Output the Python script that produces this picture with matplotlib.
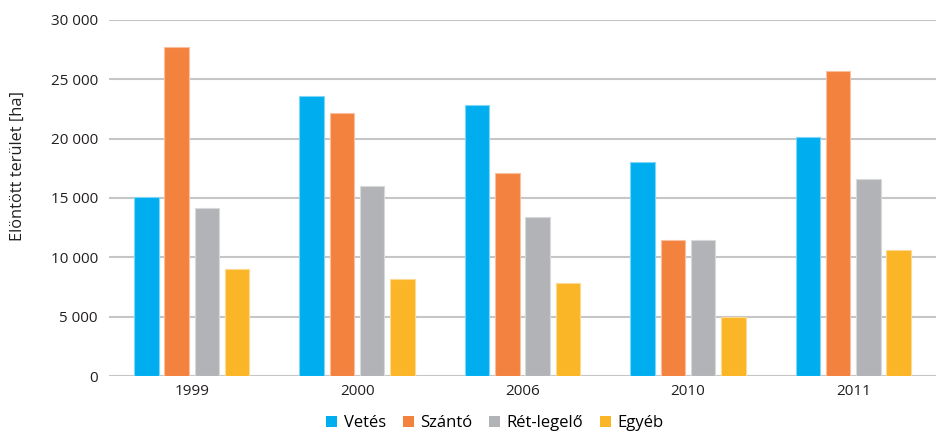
import matplotlib
matplotlib.use("Agg")
import matplotlib.pyplot as plt
import numpy as np
from matplotlib.ticker import FuncFormatter

plt.rcParams['font.family'] = ['Open Sans', 'DejaVu Sans']

years = ["1999", "2000", "2006", "2010", "2011"]
series_names = ["Vetés", "Szántó", "Rét-legelő", "Egyéb"]
vetes = [15100, 23600, 22800, 18000, 20150]
szanto = [27700, 22150, 17100, 11450, 25700]
ret = [14150, 16000, 13400, 11500, 16600]
egyeb = [9050, 8150, 7850, 5000, 10650]
colors = ["#00AEEF", "#F3823F", "#B1B3B6", "#FBB627"]
edgecolors = ["#7FD6F7", "#F9C09F", "#D8D9DA", "#FDDA93"]

data = [vetes, szanto, ret, egyeb]

fig = plt.figure(figsize=(9.36, 4.33), dpi=100)
ax = fig.add_axes([109/936, 1 - 376/433, (936-109)/936, 356/433])

x = np.arange(len(years))
pitch = 0.183
width = 0.148
for i, (vals, c, ec, name) in enumerate(zip(data, colors, edgecolors, series_names)):
    ax.bar(x + (i - 1.5) * pitch, vals, width=width, color=c, edgecolor=ec,
           linewidth=0.8, label=name, zorder=3)

ax.set_xlim(-0.5, 4.5)
ax.set_ylim(0, 30000)
ax.set_yticks(np.arange(0, 30001, 5000))
ax.yaxis.set_major_formatter(FuncFormatter(lambda v, p: f"{int(v):,}".replace(",", " ")))
ax.set_xticks(x)
ax.set_xticklabels(years)
ax.grid(axis='y', color='#C6C6C6', linewidth=1.5, zorder=0)
ax.set_axisbelow(True)
for s in ax.spines.values():
    s.set_visible(False)
ax.tick_params(axis='both', length=0, labelsize=11, colors='#231F20', pad=6)
ax.tick_params(axis='y', pad=8)
ax.set_ylabel("Elöntött terület [ha]", fontsize=11.8, color='#231F20')
ax.yaxis.set_label_coords(-0.100, 0.59)

handles, labels = ax.get_legend_handles_labels()
leg = fig.legend(handles, labels, loc='center', bbox_to_anchor=(495/936, 1 - 423/433),
                 ncol=4, frameon=False, fontsize=12, handlelength=0.66, handleheight=0.66,
                 handletextpad=0.4, columnspacing=1.0, borderpad=0)
for h in leg.legend_handles:
    h.set_edgecolor('none')

fig.savefig("out.png", dpi=100)
